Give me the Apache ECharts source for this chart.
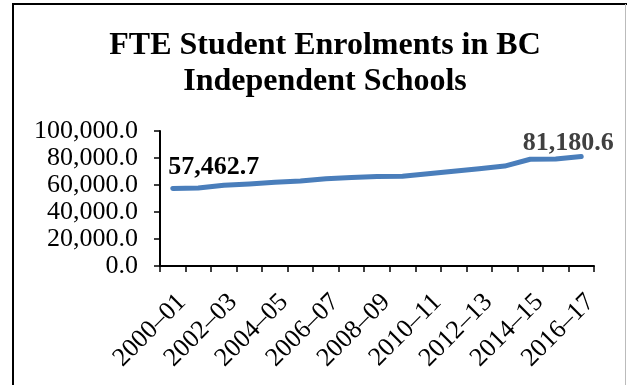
<!DOCTYPE html>
<html>
<head>
<meta charset="utf-8">
<script src="https://cdn.jsdelivr.net/npm/echarts@6/dist/echarts.min.js"></script>
<style>
  html, body { margin: 0; padding: 0; background: #fff; }
  #main { width: 627px; height: 385px; }
</style>
</head>
<body>
<div id="main"></div>
<script>
// school years on the x axis
var years = ["2000\u201301", "2001\u201302", "2002\u201303", "2003\u201304", "2004\u201305", "2005\u201306",
  "2006\u201307", "2007\u201308", "2008\u201309", "2009\u201310", "2010\u201311", "2011\u201312",
  "2012\u201313", "2013\u201314", "2014\u201315", "2015\u201316", "2016\u201317"];
// FTE enrolment (first and last are labelled)
var enrolment = [57462.7, 57700, 59800, 60800, 62000, 63000, 64600, 65500, 66300, 66400,
  68300, 70200, 72100, 74000, 79100, 79300, 81180.6];
var yTicks = [0, 20000, 40000, 60000, 80000, 100000];

var chart = echarts.init(document.getElementById("main"));
var font = "'Liberation Serif', 'Times New Roman', serif";
var lineColor = "#4a7ebb";

function fmt(v) {
  return v.toLocaleString("en-US", { minimumFractionDigits: 1, maximumFractionDigits: 1 });
}

// only the first and the last point get a label
var seriesData = enrolment.map(function (v, i) {
  if (i === 0) {
    return { value: v, label: { show: true, color: "#000", offset: [41, -3] } };
  }
  if (i === enrolment.length - 1) {
    return { value: v, label: { show: true, color: "#404040", offset: [-13, 5] } };
  }
  return v;
});

var option = {
  animation: false,
  textStyle: { fontFamily: font },
  title: {
    text: "FTE Student Enrolments in BC\nIndependent Schools",
    left: 320,
    textAlign: "center",
    top: 22,
    textStyle: { fontFamily: font, fontSize: 32, fontWeight: "bold", color: "#000", lineHeight: 36.5 }
  },
  graphic: [
    { type: "line", shape: { x1: 13, y1: 3, x2: 13, y2: 385 }, style: { stroke: "#000", lineWidth: 2 } },
    { type: "line", shape: { x1: 12, y1: 4, x2: 627, y2: 4 }, style: { stroke: "#000", lineWidth: 2 } },
    { type: "line", shape: { x1: 625.5, y1: 4, x2: 625.5, y2: 385 }, style: { stroke: "#bbb", lineWidth: 1 } }
  ],
  grid: { left: 160, right: 33, top: 131, bottom: 119 },
  xAxis: {
    type: "category",
    data: years,
    boundaryGap: true,
    axisLine: { lineStyle: { color: "#000", width: 2 } },
    axisTick: { show: true, interval: 0, length: 6, lineStyle: { color: "#000", width: 1.5 } },
    axisLabel: {
      interval: 1, rotate: 45, margin: 23, fontSize: 26, color: "#000", fontFamily: font,
      align: "right", verticalAlign: "top"
    }
  },
  yAxis: {
    type: "value",
    min: yTicks[0],
    max: yTicks[yTicks.length - 1],
    interval: yTicks[1] - yTicks[0],
    splitLine: { show: false },
    axisLine: { show: true, lineStyle: { color: "#000", width: 2 } },
    axisTick: { show: true, length: 6, lineStyle: { color: "#000", width: 1.5 } },
    axisLabel: { margin: 22, fontSize: 26, color: "#000", fontFamily: font, formatter: fmt }
  },
  series: [{
    type: "line",
    data: seriesData,
    symbol: "circle",
    symbolSize: 1,
    showSymbol: true,
    itemStyle: { color: lineColor },
    smooth: false,
    lineStyle: { color: lineColor, width: 5, cap: "round", join: "round" },
    label: {
      show: false,
      position: "top",
      distance: 5,
      fontFamily: font,
      fontSize: 26,
      fontWeight: "bold",
      formatter: function (p) { return fmt(p.value); }
    }
  }]
};

chart.setOption(option);
</script>
</body>
</html>
